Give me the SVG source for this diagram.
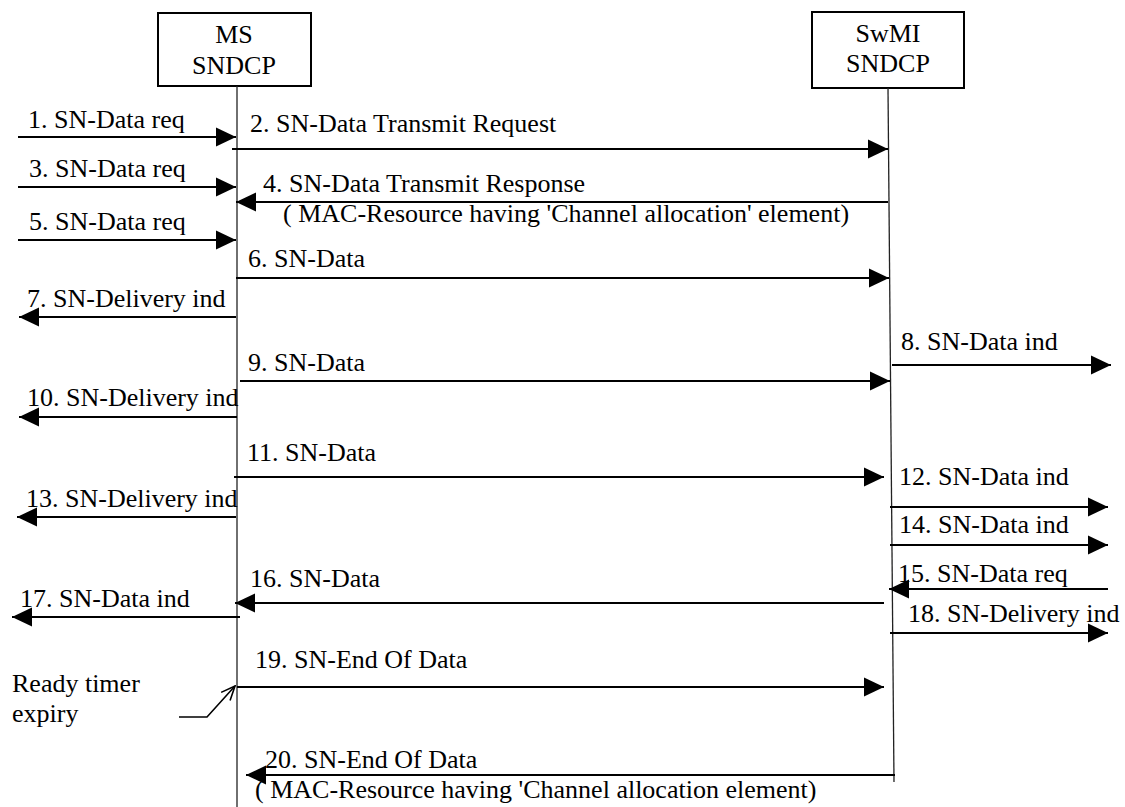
<svg xmlns="http://www.w3.org/2000/svg" width="1125" height="807" viewBox="0 0 1125 807">
<style>
text { font-family: "Liberation Serif", "Times New Roman", serif; font-size: 26px; fill: #000; }
.box { fill: #fff; stroke: #000; stroke-width: 2; }
.life { stroke: #222; stroke-width: 1.3; fill: none; }
.msg { stroke: #000; stroke-width: 2; fill: none; marker-end: url(#ah); }
.thin { stroke: #000; stroke-width: 1.6; fill: none; }
.c { text-anchor: middle; }
</style>
<defs>
<marker id="ah" markerUnits="userSpaceOnUse" markerWidth="20" markerHeight="20" refX="20" refY="10" orient="auto" viewBox="0 0 20 20">
<path d="M0,0.5 L20,10 L0,19.5 z" fill="#000"/>
</marker>
<marker id="oa" markerUnits="userSpaceOnUse" markerWidth="16" markerHeight="14" refX="15" refY="7" orient="auto" viewBox="0 0 16 14">
<path d="M1,1 L15,7 L1,13" fill="none" stroke="#000" stroke-width="1.6"/>
</marker>
</defs>
<rect width="1125" height="807" fill="#fff"/>
<g id="ms">
<rect class="box" x="158" y="13" width="153" height="73"/>
<text class="c" x="234" y="43">MS</text>
<text class="c" x="234" y="74">SNDCP</text>
<line class="life" x1="237" y1="86" x2="237" y2="807"/>
</g>
<g id="swmi">
<rect class="box" x="812" y="12" width="152" height="76"/>
<text class="c" x="888" y="42">SwMI</text>
<text class="c" x="888" y="72">SNDCP</text>
<line class="life" x1="888" y1="88" x2="894" y2="782"/>
</g>
<g id="ready-timer">
<text x="12" y="692">Ready timer</text>
<text x="12" y="722">expiry</text>
<polyline class="thin" points="179,717 207,717 235,686" marker-end="url(#oa)"/>
</g>
<g id="connectors">
<line class="msg" x1="18" y1="137" x2="236" y2="137"/>
<line class="msg" x1="232" y1="149" x2="888" y2="149"/>
<line class="msg" x1="18" y1="187" x2="236" y2="187"/>
<line class="msg" x1="888" y1="202" x2="236" y2="202"/>
<line class="msg" x1="18" y1="240" x2="236" y2="240"/>
<line class="msg" x1="236" y1="278" x2="889" y2="278"/>
<line class="msg" x1="236" y1="317" x2="19" y2="317"/>
<line class="msg" x1="892" y1="365" x2="1111" y2="365"/>
<line class="msg" x1="240" y1="381" x2="890" y2="381"/>
<line class="msg" x1="237" y1="417" x2="19" y2="417"/>
<line class="msg" x1="234" y1="477" x2="884" y2="477"/>
<line class="msg" x1="890" y1="507" x2="1108" y2="507"/>
<line class="msg" x1="236" y1="517" x2="17" y2="517"/>
<line class="msg" x1="890" y1="545" x2="1108" y2="545"/>
<line class="msg" x1="1108" y1="589" x2="889" y2="589"/>
<line class="msg" x1="884" y1="603" x2="235" y2="603"/>
<line class="msg" x1="240" y1="617" x2="12" y2="617"/>
<line class="msg" x1="890" y1="633" x2="1108" y2="633"/>
<line class="msg" x1="237" y1="687" x2="884" y2="687"/>
<line class="msg" x1="895" y1="775" x2="246" y2="775"/>
</g>
<g id="labels">
<text x="28" y="128">1. SN-Data req</text>
<text x="250" y="132">2. SN-Data Transmit Request</text>
<text x="29" y="177">3. SN-Data req</text>
<text x="263" y="192">4. SN-Data Transmit Response</text>
<text x="283" y="222">( MAC-Resource having 'Channel allocation' element)</text>
<text x="29" y="230">5. SN-Data req</text>
<text x="248" y="267">6. SN-Data</text>
<text x="27" y="307">7. SN-Delivery ind</text>
<text x="901" y="350">8. SN-Data ind</text>
<text x="248" y="371">9. SN-Data</text>
<text x="27" y="406">10. SN-Delivery ind</text>
<text x="247" y="461">11. SN-Data</text>
<text x="899" y="485">12. SN-Data ind</text>
<text x="26" y="507">13. SN-Delivery ind</text>
<text x="899" y="533">14. SN-Data ind</text>
<text x="898" y="582">15. SN-Data req</text>
<text x="250" y="587">16. SN-Data</text>
<text x="20" y="607">17. SN-Data ind</text>
<text x="908" y="622">18. SN-Delivery ind</text>
<text x="255" y="668">19. SN-End Of Data</text>
<text x="265" y="768">20. SN-End Of Data</text>
<text x="255" y="798">( MAC-Resource having 'Channel allocation element)</text>
</g>
</svg>
